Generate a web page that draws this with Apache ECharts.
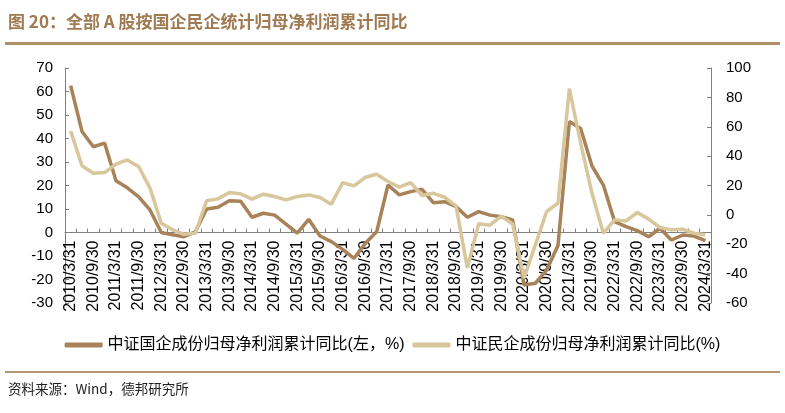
<!DOCTYPE html>
<html><head><meta charset="utf-8">
<script src="https://cdn.jsdelivr.net/npm/echarts@6/dist/echarts.min.js"></script>
<style>html,body{margin:0;padding:0;background:#fff}#c{width:785px;height:413px}</style>
</head><body><div id="c"></div>
<script>
const categories = [
"2010/3/31","2010/6/30","2010/9/30","2010/12/31",
"2011/3/31","2011/6/30","2011/9/30","2011/12/31",
"2012/3/31","2012/6/30","2012/9/30","2012/12/31",
"2013/3/31","2013/6/30","2013/9/30","2013/12/31",
"2014/3/31","2014/6/30","2014/9/30","2014/12/31",
"2015/3/31","2015/6/30","2015/9/30","2015/12/31",
"2016/3/31","2016/6/30","2016/9/30","2016/12/31",
"2017/3/31","2017/6/30","2017/9/30","2017/12/31",
"2018/3/31","2018/6/30","2018/9/30","2018/12/31",
"2019/3/31","2019/6/30","2019/9/30","2019/12/31",
"2020/3/31","2020/6/30","2020/9/30","2020/12/31",
"2021/3/31","2021/6/30","2021/9/30","2021/12/31",
"2022/3/31","2022/6/30","2022/9/30","2022/12/31",
"2023/3/31","2023/6/30","2023/9/30","2023/12/31",
"2024/3/31"];
const stateSOE = [62.5,43,36.5,38,22,19,15.2,9.6,0,-1,-1.8,0.3,10,10.7,13.5,13.3,6.5,8.2,7.4,3.6,-0.3,5.6,-1.5,-3.9,-7.2,-11,-4.6,0.3,20.2,16,17.4,18.4,12.7,13.1,11,6.5,8.9,7.4,6.7,5.3,-22.3,-21.6,-16,-5.5,47.2,44.3,28.3,20.2,4.6,2.5,0.8,-1.8,1.8,-3.2,-1.1,-1.5,-3.5];
const privateEnt = [57,33.4,28.4,28.8,34.5,37.4,32.9,18.2,-5.7,-10.2,-13.2,-12.5,9.7,10.9,15.2,14.3,10.7,14.1,12.5,10.2,12.5,13.6,11.8,7.3,22,19.7,25.6,27.7,22.7,18.9,22,13.2,14.7,12,6.1,-36,-6.1,-7,-0.9,-6.2,-43,-20.4,2.3,8,86,48.8,14.7,-12.5,-3.4,-4.1,1.6,-2.9,-8.6,-10.2,-9.8,-12.5,-13.6];
const seriesNames = ["中证国企成份归母净利润累计同比(左，%)","中证民企成份归母净利润累计同比(%)"];
const titleText = "图 20：全部 A 股按国企民企统计归母净利润累计同比";
const sourceText = "资料来源：Wind，德邦研究所";

const DARK = "#a88258", LIGHT = "#d8c69c", AX = "#808080";
const CJK = "'Liberation Sans', 'Noto Sans CJK SC', sans-serif";
const chart = echarts.init(document.getElementById('c'), null, {renderer:'canvas'});
chart.setOption({
  animation:false,
  textStyle:{fontFamily:CJK},
  grid:{left:65,right:74,top:68,bottom:110,containLabel:false},
  graphic:[
    {type:'text',left:8,top:13,style:{text:titleText,fill:'#a07a50',font:"bold 17px 'Noto Sans CJK SC', sans-serif"}},
    {type:'rect',shape:{x:5,y:42,width:775,height:3},style:{fill:'#b08e68'}},
    {type:'rect',shape:{x:5,y:371,width:775,height:2},style:{fill:'#b59573'}},
    {type:'text',left:8,top:382,style:{text:sourceText,fill:'#222',font:"13.5px 'Noto Sans CJK SC', sans-serif"}}
  ],
  legend:{
    left:'center',top:332,icon:'roundRect',itemWidth:38,itemHeight:5,itemGap:8,
    textStyle:{fontSize:16,color:'#000',fontFamily:CJK},
    data:seriesNames
  },
  xAxis:{
    type:'category',data:categories,boundaryGap:true,position:'bottom',offset:-70.5,
    axisLine:{onZero:false,lineStyle:{color:AX,width:1}},
    axisTick:{show:true,inside:true,length:4,interval:0,lineStyle:{color:AX}},
    axisLabel:{interval:1,rotate:90,fontSize:16,color:'#000',margin:8,fontFamily:'Liberation Sans'},
    splitLine:{show:false}
  },
  yAxis:[
    {type:'value',position:'left',min:-30,max:70,interval:10,
     axisLine:{show:true,lineStyle:{color:AX}},
     axisTick:{show:true,inside:true,length:4,lineStyle:{color:AX}},
     axisLabel:{fontSize:15,color:'#000',margin:12,fontFamily:'Liberation Sans'},
     splitLine:{show:false}},
    {type:'value',position:'right',min:-60,max:100,interval:20,
     axisLine:{show:true,lineStyle:{color:AX}},
     axisTick:{show:true,inside:true,length:4,lineStyle:{color:AX}},
     axisLabel:{fontSize:15,color:'#000',margin:15,fontFamily:'Liberation Sans'},
     splitLine:{show:false}}
  ],
  series:[
    {name:seriesNames[0],type:'line',yAxisIndex:0,data:stateSOE,symbol:'none',
     lineStyle:{color:DARK,width:3.5},itemStyle:{color:DARK}},
    {name:seriesNames[1],type:'line',yAxisIndex:1,data:privateEnt,symbol:'none',
     lineStyle:{color:LIGHT,width:3.5},itemStyle:{color:LIGHT}}
  ]
});
</script></body></html>
